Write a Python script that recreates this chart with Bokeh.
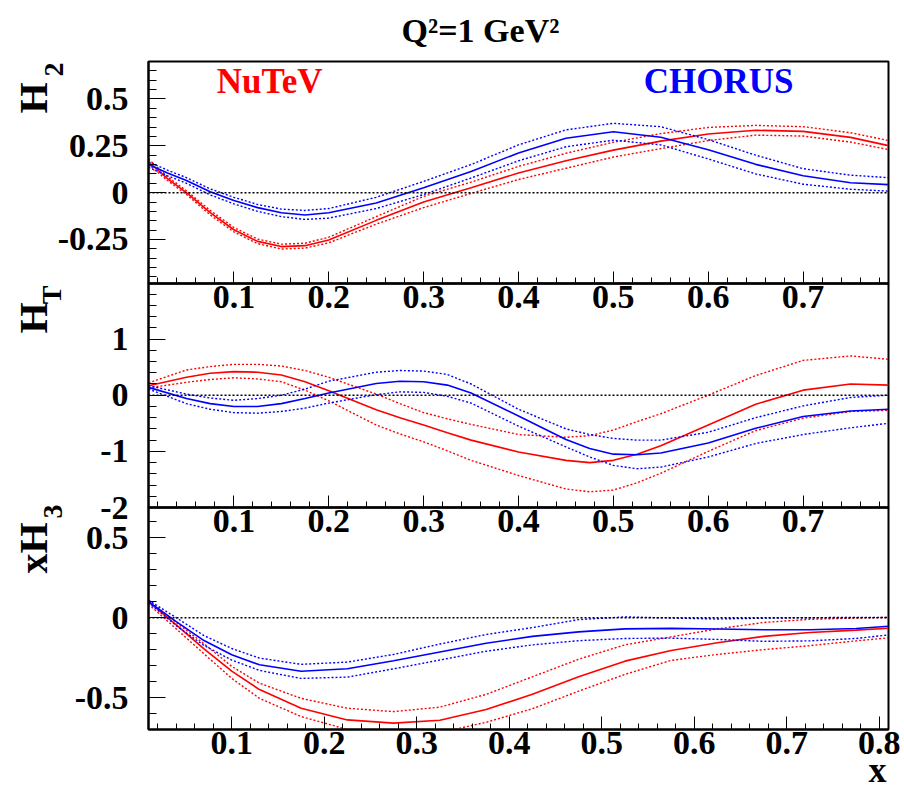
from math import pi
from bokeh.plotting import figure
from bokeh.layouts import column
from bokeh.models import SingleIntervalTicker, CustomJSTickFormatter, Label, Range1d, Span
from bokeh.embed import file_html
from bokeh.resources import INLINE

# ---------------- data ----------------
# Panel 1: H2
x_h2 = [0.01, 0.03, 0.05, 0.075, 0.1, 0.125, 0.15, 0.175, 0.2, 0.25, 0.3, 0.35, 0.4,
        0.45, 0.5, 0.55, 0.6, 0.65, 0.7, 0.75, 0.79]
nutev_h2 = [0.165, 0.075, 0.0, -0.107, -0.198, -0.26, -0.288, -0.283, -0.253, -0.148, -0.05,
            0.026, 0.105, 0.17, 0.227, 0.275, 0.313, 0.333, 0.327, 0.295, 0.251]
nutev_h2_up = [0.18, 0.085, 0.01, -0.095, -0.186, -0.248, -0.275, -0.27, -0.238, -0.128, -0.02,
               0.056, 0.14, 0.21, 0.269, 0.315, 0.348, 0.359, 0.352, 0.32, 0.278]
nutev_h2_lo = [0.15, 0.065, -0.01, -0.119, -0.21, -0.272, -0.301, -0.296, -0.268, -0.168, -0.08,
               -0.004, 0.07, 0.13, 0.19, 0.235, 0.278, 0.307, 0.302, 0.27, 0.23]
chorus_h2 = [0.15, 0.105, 0.065, 0.005, -0.042, -0.08, -0.107, -0.119, -0.107, -0.055, 0.026,
             0.113, 0.212, 0.29, 0.325, 0.296, 0.229, 0.151, 0.09, 0.053, 0.043]
chorus_h2_up = [0.165, 0.12, 0.08, 0.02, -0.025, -0.063, -0.088, -0.095, -0.085, -0.025, 0.06,
                0.15, 0.255, 0.335, 0.37, 0.352, 0.283, 0.2, 0.128, 0.093, 0.08]
chorus_h2_lo = [0.135, 0.09, 0.05, -0.012, -0.06, -0.1, -0.128, -0.143, -0.136, -0.085, -0.01,
                0.078, 0.17, 0.245, 0.28, 0.255, 0.18, 0.1, 0.045, 0.018, 0.008]

# Panel 2: H_T
x_ht = [0.01, 0.05, 0.075, 0.1, 0.125, 0.15, 0.175, 0.2, 0.25, 0.275, 0.3, 0.325, 0.35, 0.4,
        0.45, 0.475, 0.5, 0.525, 0.55, 0.6, 0.65, 0.7, 0.75, 0.79]
nutev_ht = [0.17, 0.32, 0.39, 0.42, 0.41, 0.36, 0.24, 0.08, -0.26, -0.4, -0.53, -0.67, -0.8,
            -1.01, -1.16, -1.2, -1.16, -1.05, -0.9, -0.53, -0.16, 0.09, 0.2, 0.18]
nutev_ht_up = [0.22, 0.45, 0.51, 0.55, 0.55, 0.52, 0.44, 0.32, 0.02, -0.15, -0.31, -0.42, -0.52,
               -0.7, -0.75, -0.72, -0.62, -0.47, -0.33, 0.0, 0.35, 0.62, 0.7, 0.64]
nutev_ht_lo = [0.13, 0.23, 0.28, 0.31, 0.29, 0.24, 0.09, -0.1, -0.53, -0.69, -0.83, -0.99, -1.16,
               -1.43, -1.67, -1.72, -1.69, -1.56, -1.39, -1.0, -0.63, -0.41, -0.29, -0.27]
chorus_ht = [0.14, -0.06, -0.15, -0.2, -0.2, -0.15, -0.06, 0.04, 0.21, 0.25, 0.24, 0.18, 0.04,
             -0.37, -0.79, -0.95, -1.05, -1.06, -1.03, -0.85, -0.59, -0.38, -0.28, -0.25]
chorus_ht_up = [0.17, 0.02, -0.05, -0.09, -0.06, 0.0, 0.11, 0.25, 0.41, 0.44, 0.43, 0.37, 0.2,
                -0.25, -0.6, -0.7, -0.77, -0.8, -0.8, -0.66, -0.4, -0.19, -0.04, 0.0]
chorus_ht_lo = [0.11, -0.15, -0.25, -0.31, -0.32, -0.29, -0.23, -0.14, 0.01, 0.06, 0.05, -0.02,
                -0.14, -0.55, -0.92, -1.1, -1.25, -1.31, -1.28, -1.1, -0.86, -0.7, -0.58, -0.5]

# Panel 3: xH3
x_h3 = [0.01, 0.04, 0.07, 0.1, 0.13, 0.175, 0.225, 0.275, 0.325, 0.375, 0.425, 0.475, 0.525,
        0.575, 0.625, 0.675, 0.725, 0.775, 0.81]
nutev_h3 = [0.1, -0.045, -0.195, -0.335, -0.45, -0.567, -0.64, -0.66, -0.642, -0.575, -0.48,
            -0.37, -0.272, -0.205, -0.157, -0.117, -0.093, -0.078, -0.066]
nutev_h3_up = [0.11, -0.03, -0.163, -0.305, -0.41, -0.505, -0.567, -0.588, -0.56, -0.48, -0.37,
               -0.26, -0.17, -0.12, -0.07, -0.03, -0.01, -0.002, 0.002]
nutev_h3_lo = [0.085, -0.07, -0.226, -0.38, -0.505, -0.619, -0.7, -0.74, -0.72, -0.655, -0.57,
               -0.46, -0.355, -0.267, -0.23, -0.2, -0.175, -0.145, -0.126]
chorus_h3 = [0.1, -0.025, -0.143, -0.232, -0.295, -0.335, -0.32, -0.27, -0.215, -0.16, -0.117,
             -0.089, -0.07, -0.067, -0.071, -0.075, -0.075, -0.068, -0.054]
chorus_h3_up = [0.11, 0.0, -0.112, -0.193, -0.253, -0.292, -0.278, -0.23, -0.165, -0.105, -0.062,
                -0.012, 0.005, -0.002, -0.008, -0.003, 0.0, 0.002, 0.002]
chorus_h3_lo = [0.095, -0.05, -0.174, -0.265, -0.33, -0.38, -0.372, -0.32, -0.265, -0.21, -0.17,
                -0.144, -0.13, -0.128, -0.136, -0.148, -0.145, -0.13, -0.108]

TITLE = "Q²=1 GeV²"
LABEL_NUTEV = "NuTeV"
LABEL_CHORUS = "CHORUS"
XTITLE = "x"

# ---------------- styling ----------------
FONT = "Liberation Serif"
RED = "#ff0000"
BLUE = "#0000ff"
W, H = 904, 789
BL, BR = 148, 16          # left / right borders shared by every plot in the column
FW = W - BL - BR          # frame width (740)


def make_panel(xr, yr, frame_h, ytick, b_top, b_bottom, xtick_len):
    p = figure(frame_width=FW, frame_height=frame_h,
               x_range=Range1d(*xr), y_range=Range1d(*yr),
               output_backend="svg", toolbar_location=None, title=None,
               min_border_left=BL, min_border_right=BR,
               min_border_top=b_top, min_border_bottom=b_bottom)
    p.xgrid.visible = False
    p.ygrid.visible = False
    p.outline_line_color = "black"
    p.outline_line_width = 2
    p.background_fill_color = None
    p.border_fill_color = None
    for ax, interval, tin, mtin in [(p.xaxis[0], 0.1, xtick_len, xtick_len // 2),
                                    (p.yaxis[0], ytick, 17, 8)]:
        ax.ticker = SingleIntervalTicker(interval=interval, num_minor_ticks=5)
        ax.formatter = CustomJSTickFormatter(code="return String(+tick.toFixed(4));")
        ax.major_tick_in = tin
        ax.major_tick_out = 0
        ax.minor_tick_in = mtin
        ax.minor_tick_out = 0
        ax.axis_line_width = 2
        ax.major_tick_line_width = 1
        ax.minor_tick_line_width = 1
        ax.major_label_text_font = FONT
        ax.major_label_text_font_style = "bold"
        ax.major_label_text_font_size = "34px"
        ax.major_label_text_color = "black"
    p.xaxis.major_label_standoff = 2
    p.yaxis.major_label_standoff = 20
    p.add_layout(Span(location=0, dimension="width", line_color="black",
                      line_dash="2 2", line_width=1.5))
    return p


def draw(p, x, nut, nut_up, nut_lo, cho, cho_up, cho_lo):
    for y in (nut_up, nut_lo):
        p.line(x, y, line_color=RED, line_width=1.4, line_dash="2 2")
    p.line(x, nut, line_color=RED, line_width=1.6)
    for y in (cho_up, cho_lo):
        p.line(x, y, line_color=BLUE, line_width=1.4, line_dash="2 2")
    p.line(x, cho, line_color=BLUE, line_width=1.6)


def text_layer(shift):
    """Transparent, page-sized text layer. Its frame is aligned with the panels' frames;
    shifting it left by `shift` pixels moves that frame to page x = BL - shift."""
    x0 = BL - shift
    o = figure(width=W, height=H, x_range=Range1d(x0, x0 + FW), y_range=Range1d(H, 0),
               output_backend="svg", toolbar_location=None, title=None,
               x_axis_location=None, y_axis_location=None,
               min_border_left=BL, min_border_right=BR, min_border_top=0, min_border_bottom=0)
    o.xgrid.visible = False
    o.ygrid.visible = False
    o.outline_line_color = None
    o.background_fill_color = None
    o.border_fill_color = None
    o.margin = (0, 0, -H, -shift)
    return o


def otext(layer, txt, x, y, size, align="left", baseline="middle", angle=0.0):
    layer.add_layout(Label(x=x, y=y, text=txt, angle=angle, text_align=align,
                           text_baseline=baseline, text_font=FONT, text_font_style="bold",
                           text_font_size=size, text_color="black"))


# layer A: frame covers page x 0..740 (y-axis titles, rotated and top-aligned as in ROOT)
ovA = text_layer(BL)
otext(ovA, "H", 33, 82, "40px", align="right", angle=pi / 2)
otext(ovA, "2", 53, 62, "28px", align="right", angle=pi / 2)
otext(ovA, "H", 33, 302, "40px", align="right", angle=pi / 2)
otext(ovA, "T", 51, 285, "28px", align="right", angle=pi / 2)
otext(ovA, "xH", 33, 522, "40px", align="right", angle=pi / 2)
otext(ovA, "3", 52, 504, "28px", align="right", angle=pi / 2)

# layer B: frame covers page x 148..888 (main title and x-axis title)
ovB = text_layer(0)
otext(ovB, TITLE, 480, 30, "34px", align="center")
otext(ovB, XTITLE, 886, 789, "36px", align="right", baseline="bottom")

# Panel 1
p1 = make_panel((0.01, 0.79), (-0.485, 0.7), 222, 0.25, 61, 50, 12)
draw(p1, x_h2, nutev_h2, nutev_h2_up, nutev_h2_lo, chorus_h2, chorus_h2_up, chorus_h2_lo)
p1.add_layout(Label(x=0.082, y=0.591, text=LABEL_NUTEV, text_align="left",
                    text_baseline="middle", text_font=FONT, text_font_style="bold",
                    text_font_size="35px", text_color=RED))
p1.add_layout(Label(x=0.532, y=0.591, text=LABEL_CHORUS, text_align="left",
                    text_baseline="middle", text_font=FONT, text_font_style="bold",
                    text_font_size="35px", text_color=BLUE))
p1.margin = (0, 0, -50, 0)

# Panel 2
p2 = make_panel((0.01, 0.79), (-2.0, 1.99), 224, 1, 10, 50, 12)
draw(p2, x_ht, nutev_ht, nutev_ht_up, nutev_ht_lo, chorus_ht, chorus_ht_up, chorus_ht_lo)
p2.margin = (-10, 0, -50, 0)

# Panel 3
p3 = make_panel((0.01, 0.81), (-0.7, 0.69), 222, 0.5, 10, 60, 13)
draw(p3, x_h3, nutev_h3, nutev_h3_up, nutev_h3_lo, chorus_h3, chorus_h3_up, chorus_h3_lo)
p3.margin = (-10, 0, 0, 0)

layout = column(ovA, ovB, p1, p2, p3, spacing=0)
open("out.html", "w").write(file_html(layout, INLINE))
